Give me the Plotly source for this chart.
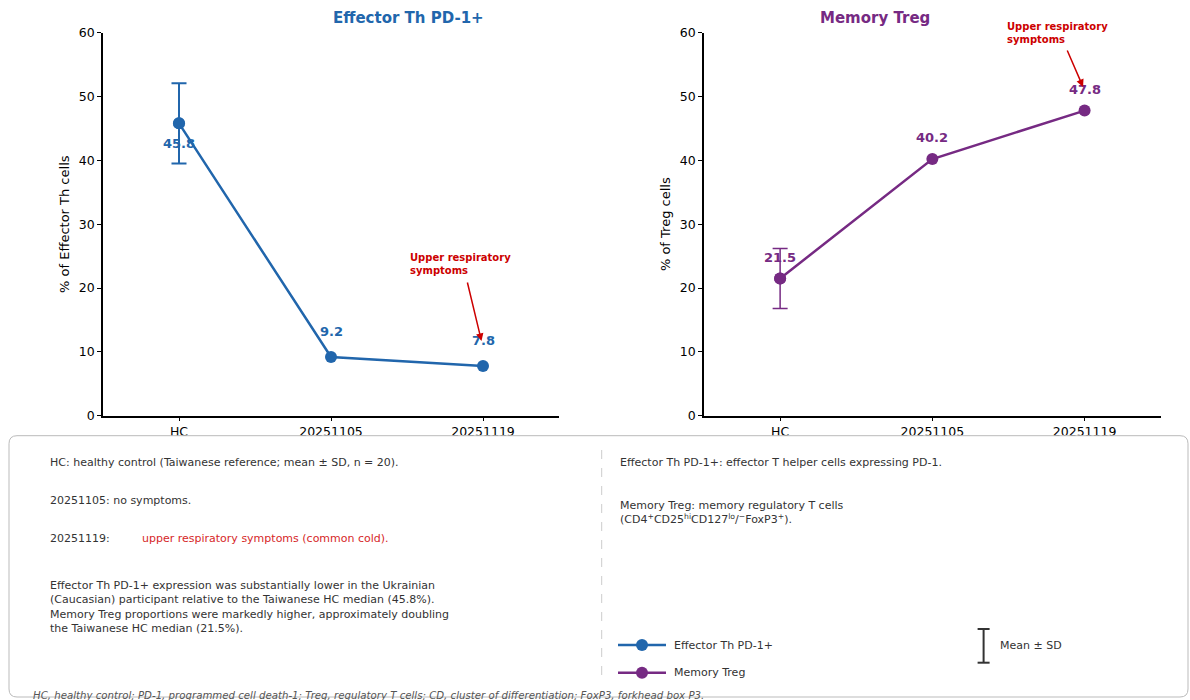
import plotly.graph_objects as go

# ---------------- data ----------------
categories = ["HC", "20251105", "20251119"]
effector_values = [45.8, 9.2, 7.8]
effector_hc_sd = 6.3
treg_values = [21.5, 40.2, 47.8]
treg_hc_sd = 4.7

BLUE = "#2166AC"
PURPLE = "#762A83"
RED = "#CC0000"
FONT = "DejaVu Sans"
W, H = 1190, 700


def px(x):
    return x / W


def py(y):
    return 1 - y / H


fig = go.Figure()
idx = list(range(len(categories)))

fig.add_trace(go.Scatter(x=idx, y=effector_values, mode="lines+markers",
                         name="Effector Th PD-1+",
                         line=dict(color=BLUE, width=2.5),
                         marker=dict(color=BLUE, size=12),
                         xaxis="x", yaxis="y"))
fig.add_trace(go.Scatter(x=idx[:1], y=effector_values[:1], mode="markers",
                         marker=dict(color=BLUE, size=12),
                         error_y=dict(type="data", array=[effector_hc_sd], color=BLUE,
                                      thickness=2, width=7.5),
                         xaxis="x", yaxis="y"))
fig.add_trace(go.Scatter(x=idx, y=treg_values, mode="lines+markers",
                         name="Memory Treg",
                         line=dict(color=PURPLE, width=2.5),
                         marker=dict(color=PURPLE, size=12),
                         xaxis="x2", yaxis="y2"))
fig.add_trace(go.Scatter(x=idx[:1], y=treg_values[:1], mode="markers",
                         marker=dict(color=PURPLE, size=12),
                         error_y=dict(type="data", array=[treg_hc_sd], color=PURPLE,
                                      thickness=1.5, width=7.5),
                         xaxis="x2", yaxis="y2"))

axis_common = dict(showline=True, linecolor="black", linewidth=1.5, ticks="outside",
                   ticklen=4, tickwidth=1, tickcolor="black", showgrid=False,
                   zeroline=False, automargin=False,
                   tickfont=dict(family=FONT, size=12.5, color="black"))
xcommon = dict(tickmode="array", tickvals=idx, ticktext=categories, range=[-0.5, 2.5], **axis_common)
ycommon = dict(range=[0, 60], dtick=10, **axis_common)

fig.update_layout(
    width=W, height=H, margin=dict(l=0, r=0, t=0, b=0, pad=0),
    paper_bgcolor="white", plot_bgcolor="white",
    font=dict(family=FONT, size=11, color="#333333"),
    xaxis=dict(domain=[px(103), px(559)], anchor="y", **xcommon),
    yaxis=dict(domain=[py(415.7), py(32.7)], anchor="x",
               title=dict(text="% of Effector Th cells", standoff=6,
                          font=dict(family=FONT, size=13, color="black")), **ycommon),
    xaxis2=dict(domain=[px(704), px(1160.7)], anchor="y2", **xcommon),
    yaxis2=dict(domain=[py(415.7), py(32.7)], anchor="x2",
                title=dict(text="% of Treg cells", standoff=6,
                           font=dict(family=FONT, size=13, color="black")), **ycommon),
    showlegend=False,
)

ann = []
ann.append(dict(text="<b>Effector Th PD-1+</b>", x=px(331), y=py(18), xref="paper", yref="paper",
                showarrow=False, yanchor="middle", font=dict(family=FONT, size=15, color=BLUE)))
ann.append(dict(text="<b>Memory Treg</b>", x=px(932), y=py(18), xref="paper", yref="paper",
                showarrow=False, yanchor="middle", font=dict(family=FONT, size=15, color=PURPLE)))

eff_shift = [-20, 25, 25]
treg_shift = [21, 22, 21]
for i, v, s in zip(idx, effector_values, eff_shift):
    ann.append(dict(text=f"<b>{v:.1f}</b>", x=i, y=v, xref="x", yref="y", yshift=s,
                    showarrow=False, font=dict(family=FONT, size=13, color=BLUE)))
for i, v, s in zip(idx, treg_values, treg_shift):
    ann.append(dict(text=f"<b>{v:.1f}</b>", x=i, y=v, xref="x2", yref="y2", yshift=s,
                    showarrow=False, font=dict(family=FONT, size=13, color=PURPLE)))

sym = "<b>Upper respiratory<br>symptoms</b>"
ann.append(dict(text=sym, x=1.507, y=23.8, xref="x", yref="y", xanchor="left", yanchor="middle",
                align="left", showarrow=False, font=dict(family=FONT, size=10, color=RED)))
ann.append(dict(text="", x=1.99, y=11.7, ax=1.895, ay=21.1, xref="x", yref="y", axref="x", ayref="y",
                showarrow=True, arrowhead=2, arrowsize=1, arrowwidth=1.5, arrowcolor=RED))
ann.append(dict(text=sym, x=1.474, y=59.9, xref="x2", yref="y2", xanchor="left", yanchor="middle",
                align="left", showarrow=False, font=dict(family=FONT, size=10, color=RED)))
ann.append(dict(text="", x=1.99, y=51.5, ax=1.882, ay=57.45, xref="x2", yref="y2", axref="x2", ayref="y2",
                showarrow=True, arrowhead=2, arrowsize=1, arrowwidth=1.5, arrowcolor=RED))


def note(text, x, y, size=11, color="#333333", italic=False):
    t = f"<i>{text}</i>" if italic else text
    ann.append(dict(text=t, x=px(x), y=py(y), xref="paper", yref="paper", xanchor="left",
                    yanchor="middle", align="left", showarrow=False,
                    font=dict(family=FONT, size=size, color=color)))


note("HC: healthy control (Taiwanese reference; mean ± SD, n = 20).", 48, 462.3)
note("20251105: no symptoms.", 48, 500.7)
note("20251119:", 48, 538.3)
note("upper respiratory symptoms (common cold).", 140, 538.3, color="#D62728")
para = ("Effector Th PD-1+ expression was substantially lower in the Ukrainian<br>"
        "(Caucasian) participant relative to the Taiwanese HC median (45.8%).<br>"
        "Memory Treg proportions were markedly higher, approximately doubling<br>"
        "the Taiwanese HC median (21.5%).")
note(para, 48, 607)
note("Effector Th PD-1+: effector T helper cells expressing PD-1.", 618, 462.3)
note("Memory Treg: memory regulatory T cells<br>"
     "(CD4<sup>+</sup>CD25<sup>hi</sup>CD127<sup>lo</sup>/<sup>−</sup>FoxP3<sup>+</sup>).", 618, 512.3)
note("Effector Th PD-1+", 672, 645)
note("Memory Treg", 672, 672.7)
note("Mean ± SD", 998, 645)
note("HC, healthy control; PD-1, programmed cell death-1; Treg, regulatory T cells; CD, cluster of "
     "differentiation; FoxP3, forkhead box P3.", 31, 695, size=10.2, color="#555555", italic=True)

fig.update_layout(annotations=ann)

x0, x1, y0, y1 = px(9), px(1188), py(697), py(435.7)
rx, ry = 8 / W, 8 / H
path = (f"M {x0+rx},{y1} L {x1-rx},{y1} Q {x1},{y1} {x1},{y1-ry} L {x1},{y0+ry} "
        f"Q {x1},{y0} {x1-rx},{y0} L {x0+rx},{y0} Q {x0},{y0} {x0},{y0+ry} "
        f"L {x0},{y1-ry} Q {x0},{y1} {x0+rx},{y1} Z")


def pline(xa, ya, xb, yb, color, width, dash="solid"):
    return dict(type="line", x0=px(xa), x1=px(xb), y0=py(ya), y1=py(yb), xref="paper", yref="paper",
                layer="above", line=dict(color=color, width=width, dash=dash))


def pdot(xc, yc, color, r=6):
    return dict(type="circle", xref="paper", yref="paper", xsizemode="pixel", ysizemode="pixel",
                xanchor=px(xc), yanchor=py(yc), x0=-r, x1=r, y0=-r, y1=r, layer="above",
                fillcolor=color, line=dict(color=color, width=0))


shapes = [
    dict(type="path", path=path, xref="paper", yref="paper", layer="above",
         fillcolor="white", line=dict(color="#BBBBBB", width=1)),
    pline(601.7, 450, 601.7, 680, "#CCCCCC", 1, "dash"),
    pline(618, 645, 666, 645, BLUE, 2.5), pdot(642, 645, BLUE),
    pline(618, 672.7, 666, 672.7, PURPLE, 2.5), pdot(642, 672.7, PURPLE),
    pline(983.6, 629, 983.6, 662.7, "#333333", 2),
    pline(977.6, 629, 989.6, 629, "#333333", 2),
    pline(977.6, 662.7, 989.6, 662.7, "#333333", 2),
]
fig.update_layout(shapes=shapes)

fig.write_html("out.html", config={"displayModeBar": False},
               post_script="document.body.style.margin='0';document.body.style.overflow='hidden';")
